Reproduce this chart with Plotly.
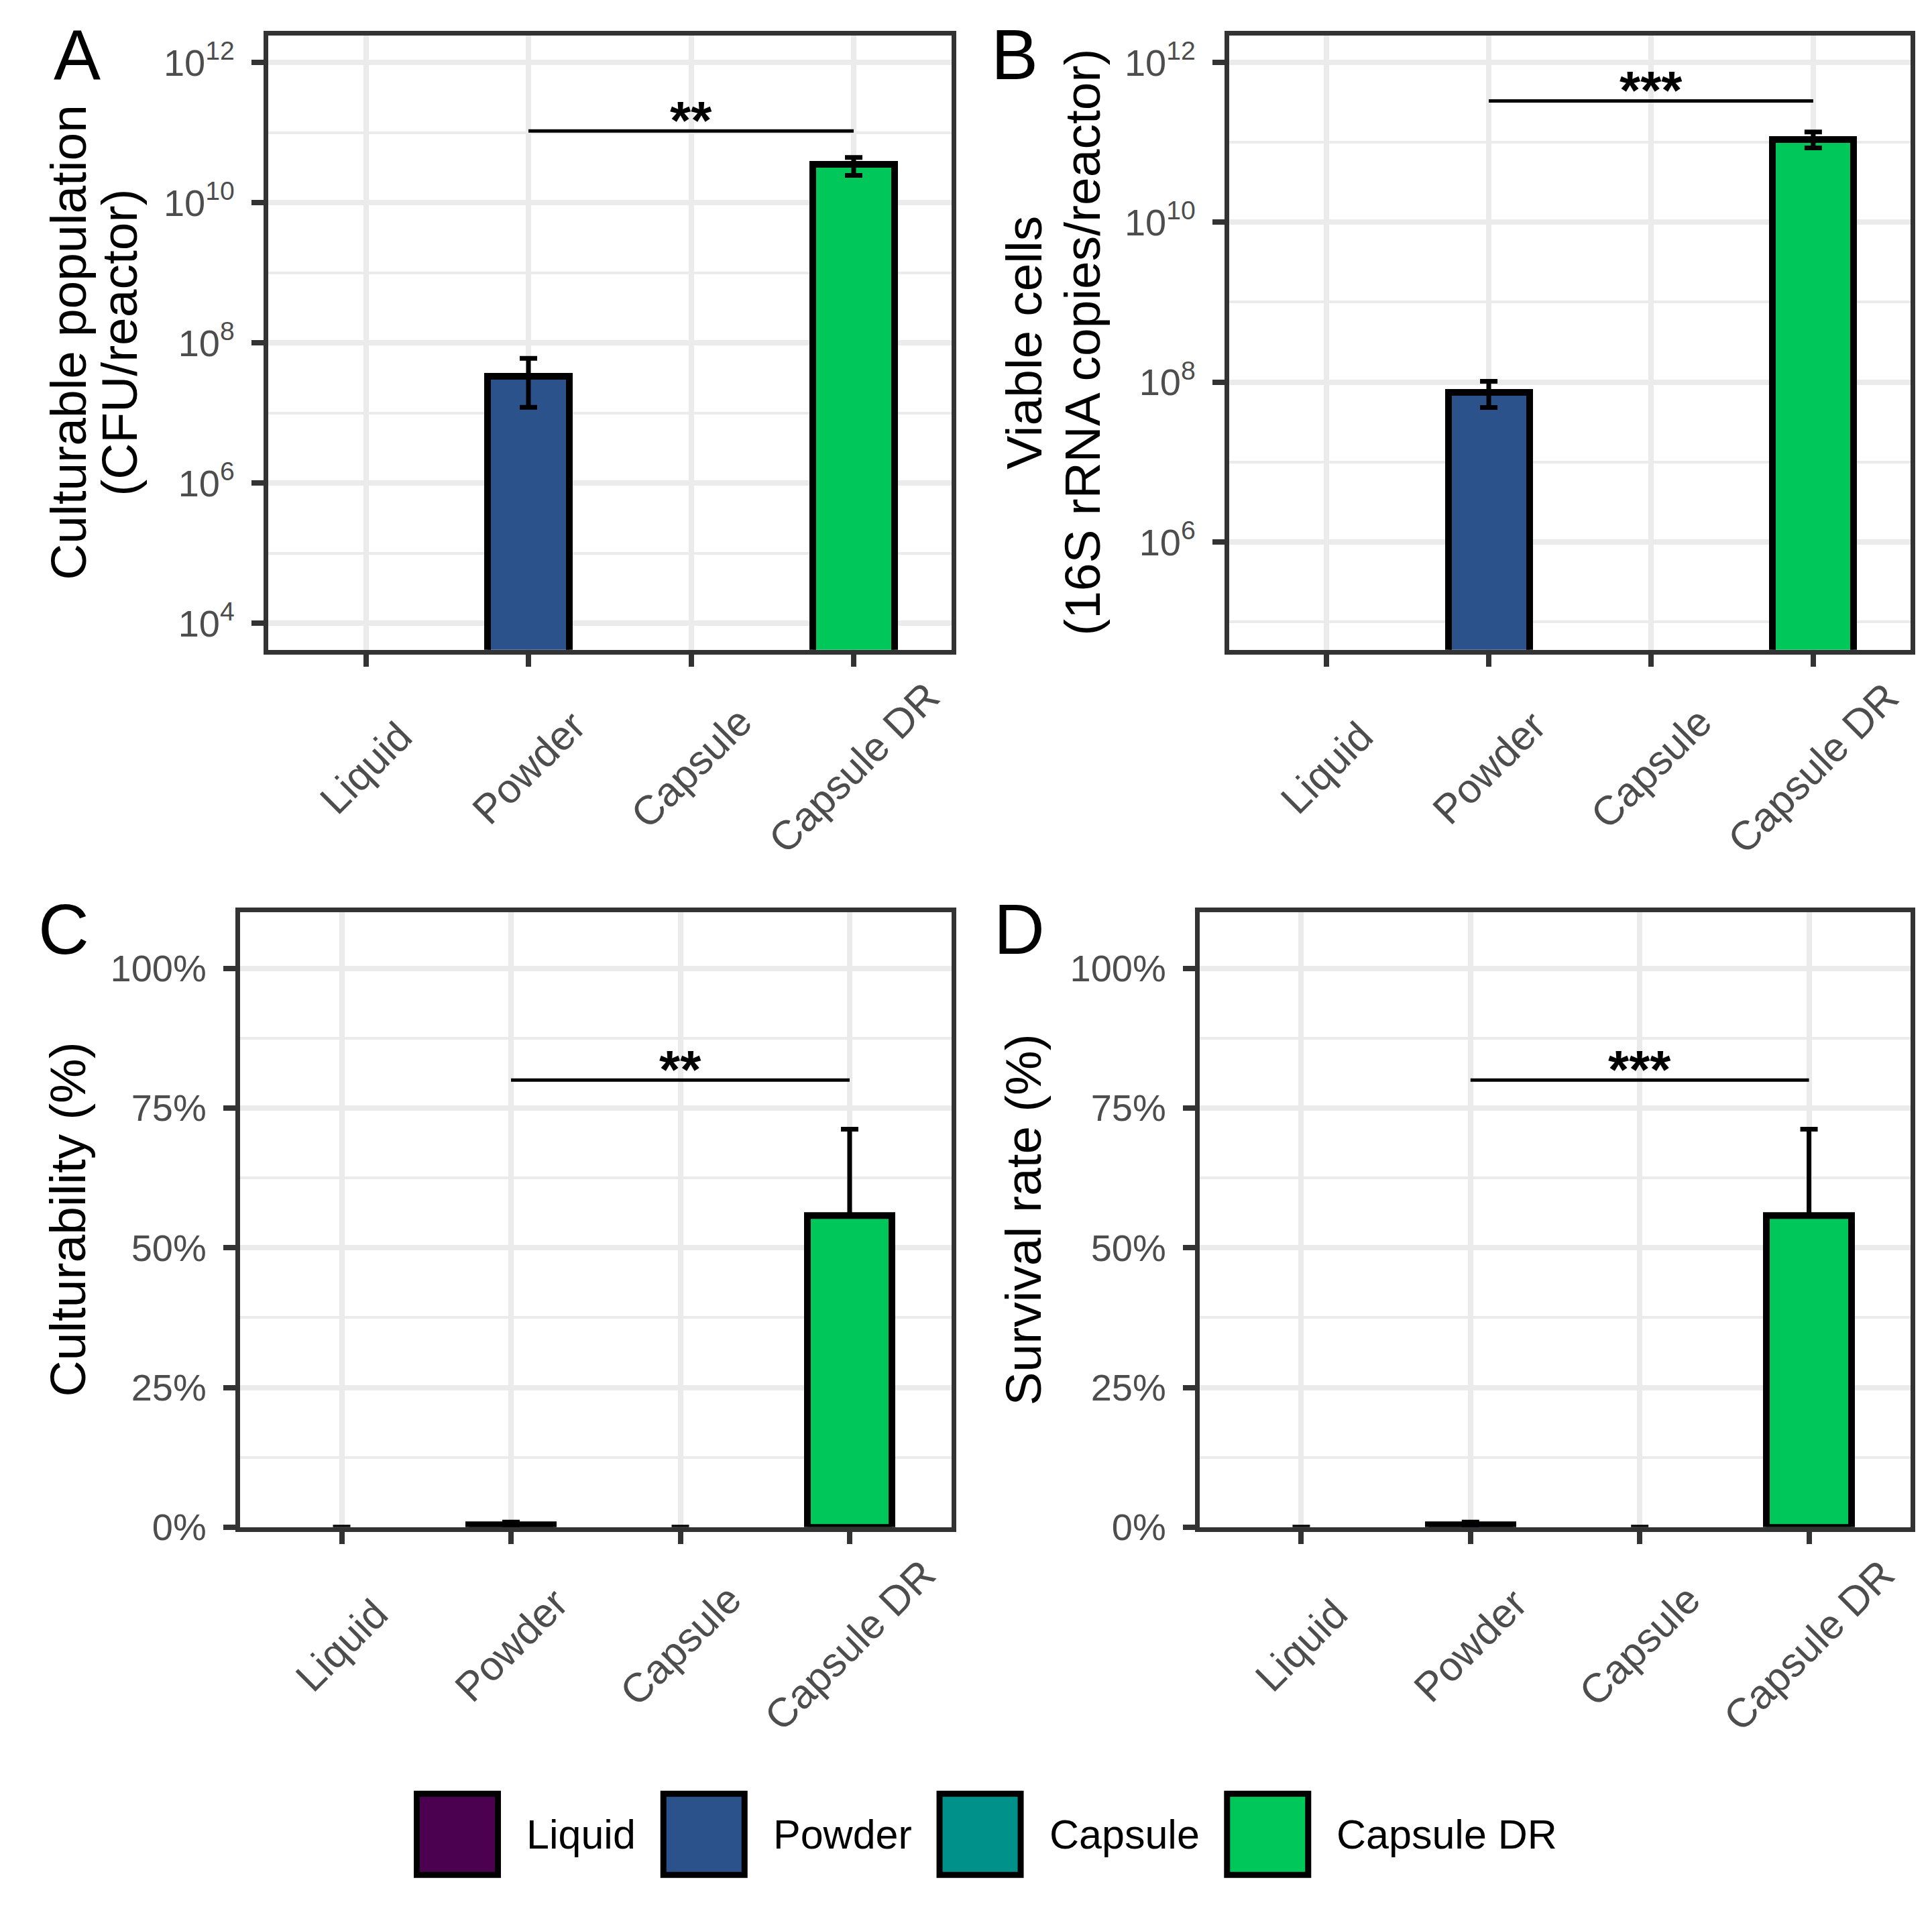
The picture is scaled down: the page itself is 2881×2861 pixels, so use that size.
import math
import plotly.graph_objects as go

# ---------------- data ----------------
categories = ["Liquid", "Powder", "Capsule", "Capsule DR"]
colors = ["#4B0050", "#2C528C", "#00928A", "#00C75A"]

# Panel A: culturable population (CFU/reactor)
culturable = [None, 3.3e7, None, 3.5e10]
culturable_lo = [None, 1.2e7, None, 2.45e10]
culturable_hi = [None, 6.0e7, None, 4.4e10]

# Panel B: viable cells (16S rRNA copies/reactor)
viable = [None, 7.5e7, None, 1.09e11]
viable_lo = [None, 4.8e7, None, 8.5e10]
viable_hi = [None, 1.02e8, None, 1.35e11]

# Panel C: culturability (%)
culturability = [0, 0.4, 0, 55.8]
culturability_hi = [0, 0.9, 0, 71.2]

# Panel D: survival rate (%)
survival = [0, 0.4, 0, 55.8]
survival_hi = [0, 0.9, 0, 71.2]

# significance brackets
sig_from, sig_to, sig_mid = "Powder", "Capsule DR", "Capsule"
sig_A, sig_A_label = 1.05e11, "**"
sig_B, sig_B_label = 3.3e11, "***"
sig_C, sig_C_label = 80, "**"
sig_D, sig_D_label = 80, "***"

# ticks
log_exps_A = [4, 6, 8, 10, 12]
log_exps_B = [6, 8, 10, 12]
log_minor_exps = [5, 7, 9, 11]
pct_ticks = [0, 25, 50, 75, 100]
pct_minor = [12.5, 37.5, 62.5, 87.5]

titles = {
    "A": ["Culturable population", "(CFU/reactor)"],
    "B": ["Viable cells", "(16S rRNA copies/reactor)"],
    "C": ["Culturability (%)"],
    "D": ["Survival rate (%)"],
}

# ---------------- layout constants ----------------
W, H = 2881, 2861
FONT = "Liberation Sans, Arial, Helvetica, sans-serif"
FRAME = "#333333"
GRID = "#EBEBEB"
TICKTXT = "#4D4D4D"

def px_x(v):
    return v / W

def px_y(v):
    return 1 - v / H

# panel frames in pixels (left, right, top, bottom)
frames = {
    "A": (392, 1410.5, 45.5, 971.5),
    "B": (1825, 2841, 45.5, 971.5),
    "C": (350, 1410.5, 1367.5, 2294.5),
    "D": (1781, 2841, 1367.5, 2294.5),
}
axis_ids = {"A": ("x", "y"), "B": ("x2", "y2"), "C": ("x3", "y3"), "D": ("x4", "y4")}

fig = go.Figure()
annotations = []

def err_arrays(vals, lo, hi):
    plus, minus = [], []
    for v, l, h in zip(vals, lo, hi):
        if not v:
            plus.append(None)
            minus.append(None)
        else:
            plus.append(h - v)
            minus.append(v - l)
    return plus, minus

def add_bars(vals, plus, minus, xa, ya):
    fig.add_trace(go.Bar(
        x=categories, y=vals, width=0.5,
        marker=dict(color=colors,
                    line=dict(color="black", width=[10 if v else 0 for v in vals])),
        error_y=dict(type="data", array=plus, arrayminus=minus, symmetric=False,
                     color="black", thickness=7, width=13),
        xaxis=xa, yaxis=ya, showlegend=False, hoverinfo="skip",
    ))

def add_sig(yv, label, xa, ya, is_log):
    fig.add_trace(go.Scatter(
        x=[sig_from, sig_to], y=[yv, yv], mode="lines",
        line=dict(color="black", width=5),
        xaxis=xa, yaxis=ya, showlegend=False, hoverinfo="skip",
    ))
    annotations.append(dict(
        text=f"<b>{label}</b>", x=sig_mid, xref=xa,
        y=(math.log10(yv) if is_log else yv), yref=ya,
        xanchor="center", yanchor="middle", yshift=16, showarrow=False,
        font=dict(family=FONT, size=80, color="black")))

pA, mA = err_arrays(culturable, culturable_lo, culturable_hi)
add_bars(culturable, pA, mA, "x", "y")
add_sig(sig_A, sig_A_label, "x", "y", True)

pB, mB = err_arrays(viable, viable_lo, viable_hi)
add_bars(viable, pB, mB, "x2", "y2")
add_sig(sig_B, sig_B_label, "x2", "y2", True)

pC, mC = err_arrays(culturability, culturability, culturability_hi)
add_bars(culturability, pC, mC, "x3", "y3")
add_sig(sig_C, sig_C_label, "x3", "y3", False)

pD, mD = err_arrays(survival, survival, survival_hi)
add_bars(survival, pD, mD, "x4", "y4")
add_sig(sig_D, sig_D_label, "x4", "y4", False)

common_axis = dict(
    showline=True, mirror=True, linecolor=FRAME, linewidth=7,
    ticks="outside", ticklen=18, tickwidth=8, tickcolor=FRAME,
    showgrid=True, gridcolor=GRID, gridwidth=8, zeroline=False,
    tickfont=dict(family=FONT, size=56, color=TICKTXT),
)

def xaxis_for(p, anchor):
    l, r, t, b = frames[p]
    return dict(common_axis, domain=[px_x(l), px_x(r)], anchor=anchor,
                type="category", categoryorder="array", categoryarray=categories,
                range=[-0.6, 3.6], showticklabels=False)

def yaxis_log(p, anchor, exps, rng):
    l, r, t, b = frames[p]
    return dict(common_axis, domain=[px_y(b), px_y(t)], anchor=anchor,
                type="log", range=rng,
                tickmode="array", tickvals=[10 ** e for e in exps],
                ticktext=[f"10<sup>{e}</sup>" for e in exps],
                ticklabelstandoff=14,
                minor=dict(tickmode="array", tickvals=[10 ** e for e in log_minor_exps],
                           showgrid=True, gridcolor=GRID, gridwidth=4, ticks="", ticklen=0))

def yaxis_pct(p, anchor):
    l, r, t, b = frames[p]
    return dict(common_axis, domain=[px_y(b), px_y(t)], anchor=anchor,
                range=[0, 110], tickmode="array", tickvals=pct_ticks,
                ticktext=[f"{v}%" for v in pct_ticks],
                ticklabelstandoff=14,
                minor=dict(tickmode="array", tickvals=pct_minor,
                           showgrid=True, gridcolor=GRID, gridwidth=4, ticks="", ticklen=0))

fig.update_layout(
    xaxis=xaxis_for("A", "y"),
    yaxis=yaxis_log("A", "x", log_exps_A, [3.623, 12.383]),
    xaxis2=xaxis_for("B", "y2"),
    yaxis2=yaxis_log("B", "x2", log_exps_B, [4.651, 12.336]),
    xaxis3=xaxis_for("C", "y3"),
    yaxis3=yaxis_pct("C", "x3"),
    xaxis4=xaxis_for("D", "y4"),
    yaxis4=yaxis_pct("D", "x4"),
    xaxis5=dict(domain=[0, 1], range=[0, W], visible=False, anchor="y5"),
    yaxis5=dict(domain=[0, 0.1], range=[H, H - 0.1 * H], visible=False, anchor="x5"),
)

# x tick labels: rotated 45 degrees, centred under each tick
XLAB_DROP = 178
for p, (xa, ya) in axis_ids.items():
    l, r, t, b = frames[p]
    for c in categories:
        annotations.append(dict(text=c, x=c, xref=xa, y=px_y(b + XLAB_DROP), yref="paper",
                                xanchor="center", yanchor="middle", textangle=-45,
                                showarrow=False,
                                font=dict(family=FONT, size=61, color=TICKTXT)))

# panel letters
letter_pos = {"A": (107, 74.5), "B": (1505, 74.5), "C": (87, 1393), "D": (1512, 1393)}
for k, (lx, ly) in letter_pos.items():
    annotations.append(dict(text=k, x=px_x(lx), y=px_y(ly), xref="paper", yref="paper",
                            xanchor="center", yanchor="middle", showarrow=False,
                            font=dict(family=FONT, size=105, color="black")))

# axis titles (one annotation per line)
title_x = {"A": [94, 170], "B": [1519, 1606], "C": [93], "D": [1518]}
for k, lines in titles.items():
    l, r, t, b = frames[k]
    cy = (t + b) / 2
    for line, tx in zip(lines, title_x[k]):
        annotations.append(dict(text=line, x=px_x(tx), y=px_y(cy), xref="paper", yref="paper",
                                xanchor="center", yanchor="middle", textangle=-90,
                                showarrow=False,
                                font=dict(family=FONT, size=75, color="black")))

# custom legend (large square keys)
CHAR_W = {"L": .556, "i": .222, "q": .556, "u": .556, "d": .556, "P": .667, "o": .556,
          "w": .722, "e": .556, "r": .333, "C": .722, "a": .556, "p": .556, "s": .5,
          "l": .222, " ": .278, "D": .722, "R": .722}
LEG_FONT = 61
KEY = 121
KEY_LINE = 9
KEY_OUT = KEY + KEY_LINE
GAP_TEXT = 37
GAP_ITEM = 38
LEG_LEFT, LEG_CY = 609, 2757.5

def text_w(s):
    return sum(CHAR_W.get(c, 0.556) for c in s) * LEG_FONT

cur = LEG_LEFT
key_x, text_x = [], []
for c in categories:
    key_x.append(cur + KEY_OUT / 2)
    text_x.append(cur + KEY_OUT + GAP_TEXT)
    cur += KEY_OUT + GAP_TEXT + text_w(c) + GAP_ITEM

fig.add_trace(go.Scatter(
    x=key_x, y=[LEG_CY] * len(categories), mode="markers",
    marker=dict(symbol="square", size=KEY, color=colors,
                line=dict(color="black", width=KEY_LINE)),
    xaxis="x5", yaxis="y5", showlegend=False, hoverinfo="skip", cliponaxis=False,
))
for c, tx in zip(categories, text_x):
    annotations.append(dict(text=c, x=tx, y=LEG_CY, xref="x5", yref="y5",
                            xanchor="left", yanchor="middle", showarrow=False,
                            borderpad=0,
                            font=dict(family=FONT, size=LEG_FONT, color="black")))

fig.update_layout(
    annotations=annotations,
    width=W, height=H, autosize=False,
    margin=dict(l=0, r=0, t=0, b=0),
    paper_bgcolor="white", plot_bgcolor="white",
    showlegend=False,
    bargap=0,
)

fig.write_html("out.html")
